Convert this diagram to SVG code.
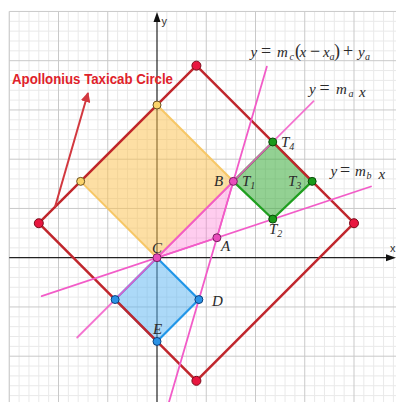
<svg xmlns="http://www.w3.org/2000/svg" width="396" height="402" viewBox="0 0 396 402">
<style>
.minor{stroke:#e9e9e9;stroke-width:1;fill:none}
.major{stroke:#c9c9c9;stroke-width:1;fill:none}
.axis{stroke:#222;stroke-width:1.2}
.pink{stroke:#f25cc8;stroke-width:1.8;fill:none;stroke-linecap:round}
.math{font-family:"Liberation Serif","Times New Roman",serif;font-style:italic;font-size:15px;fill:#2a2a2a}
.op{font-style:normal;font-size:18px}
.sub{font-size:10px}
.lbl{font-family:"Liberation Serif","Times New Roman",serif;font-style:italic;font-size:15px;fill:#2a2a2a}
.pr{fill:#e8163f;stroke:#7a0a1a;stroke-width:1}
.py{fill:#fbd46a;stroke:#6a5020;stroke-width:1}
.pg{fill:#1a9a1a;stroke:#0a4a0a;stroke-width:1}
.pp{fill:#e84cbb;stroke:#7a2060;stroke-width:1}
.pb{fill:#2a92e6;stroke:#0b3f7a;stroke-width:1}
</style>
<defs>
<marker id="ah" viewBox="0 0 10 10" refX="9" refY="5" markerWidth="5" markerHeight="5" orient="auto">
<path d="M0,0 L10,5 L0,10 z" fill="#d2383f"/>
</marker>
</defs>
<rect width="396" height="402" fill="#fff"/>
<g id="grid">
<path class="minor" d="M9.25 11.45V402M19.1 11.45V402M28.95 11.45V402M38.8 11.45V402M48.65 11.45V402M68.35 11.45V402M78.2 11.45V402M88.05 11.45V402M97.9 11.45V402M117.6 11.45V402M127.45 11.45V402M137.3 11.45V402M147.15 11.45V402M166.85 11.45V402M176.7 11.45V402M186.55 11.45V402M196.4 11.45V402M216.1 11.45V402M225.95 11.45V402M235.8 11.45V402M245.65 11.45V402M265.35 11.45V402M275.2 11.45V402M285.05 11.45V402M294.9 11.45V402M314.6 11.45V402M324.45 11.45V402M334.3 11.45V402M344.15 11.45V402M363.85 11.45V402M373.7 11.45V402M383.55 11.45V402M393.4 11.45V402"/>
<path class="minor" d="M9.25 21.3H396M9.25 31.15H396M9.25 41H396M9.25 50.85H396M9.25 70.55H396M9.25 80.4H396M9.25 90.25H396M9.25 100.1H396M9.25 119.8H396M9.25 129.65H396M9.25 139.5H396M9.25 149.35H396M9.25 169.05H396M9.25 178.9H396M9.25 188.75H396M9.25 198.6H396M9.25 218.3H396M9.25 228.15H396M9.25 238H396M9.25 247.85H396M9.25 267.55H396M9.25 277.4H396M9.25 287.25H396M9.25 297.1H396M9.25 316.8H396M9.25 326.65H396M9.25 336.5H396M9.25 346.35H396M9.25 366.05H396M9.25 375.9H396M9.25 385.75H396M9.25 395.6H396"/>
<path class="major" d="M9.25 11.45V402M58.5 11.45V402M107.75 11.45V402M206.25 11.45V402M255.5 11.45V402M304.75 11.45V402M354 11.45V402M9.25 11.45H396M9.25 60.7H396M9.25 109.95H396M9.25 159.2H396M9.25 208.45H396M9.25 306.95H396M9.25 356.2H396"/>
</g>
<g id="axes">
<line class="axis" x1="157" y1="402" x2="157" y2="20"/>
<polygon points="157,12 153.5,22 160.5,22" fill="#111"/>
<text x="161.5" y="25" font-family="Liberation Sans, Arial, sans-serif" font-size="11" fill="#333">y</text>
<line class="axis" x1="9.25" y1="257.7" x2="388" y2="257.7"/>
<polygon points="396,257.7 386,254.2 386,261.2" fill="#111"/>
<text x="390" y="252" font-family="Liberation Sans, Arial, sans-serif" font-size="11" fill="#333">x</text>
</g>
<g id="yellow-square">
<polygon points="157,257.7 80.66,181.36 157,105.03 233.34,181.36" fill="#fbbf4a" fill-opacity="0.5" stroke="#f7c766" stroke-width="2"/>
</g>
<g id="green-square">
<polygon points="233.34,181.36 272.74,141.96 312.14,181.36 272.74,219.09" fill="#3aab3a" fill-opacity="0.55" stroke="#1f9f1f" stroke-width="2.2"/>
</g>
<g id="blue-square">
<polygon points="157,257.7 115.14,299.56 157,341.43 198.86,299.56" fill="#5ab4f2" fill-opacity="0.5" stroke="#2196e8" stroke-width="2.2"/>
</g>
<g id="pink-triangle">
<polygon points="157,257.7 233.34,181.36 216.9,237.73" fill="#ff6fd0" fill-opacity="0.35" stroke="#f25cc8" stroke-width="1.5"/>
</g>
<g id="taxicab-circle">
<polygon points="196.4,65.63 354,223.23 196.4,380.83 38.8,223.23" fill="none" stroke="#c0262c" stroke-width="2.5" stroke-linejoin="round"/>
</g>
<g id="connectors">
<line class="pink" x1="77.2" y1="337.5" x2="313.6" y2="101.1" stroke-opacity="0.85"/>
<line class="pink" x1="41.7" y1="296.2" x2="371" y2="186.5"/>
<line class="pink" x1="266.8" y1="66.7" x2="169" y2="402"/>
<line x1="55" y1="207" x2="88" y2="93" stroke="#d2383f" stroke-width="2" marker-end="url(#ah)"/>
</g>
<g id="points">
<circle id="pt-top" class="pr" cx="196.4" cy="65.63" r="4.5"/>
<circle id="pt-right" class="pr" cx="354" cy="223.23" r="4.5"/>
<circle id="pt-bottom" class="pr" cx="196.4" cy="380.83" r="4.5"/>
<circle id="pt-left" class="pr" cx="38.8" cy="223.23" r="4.5"/>
<circle id="pt-ytop" class="py" cx="157" cy="105.03" r="4"/>
<circle id="pt-yleft" class="py" cx="80.66" cy="181.36" r="4"/>
<circle id="pt-T4" class="pg" cx="272.74" cy="141.96" r="4"/>
<circle id="pt-T3" class="pg" cx="312.14" cy="181.36" r="4"/>
<circle id="pt-T2" class="pg" cx="272.74" cy="219.09" r="4"/>
<circle id="pt-bleft" class="pb" cx="115.14" cy="299.56" r="4"/>
<circle id="pt-D" class="pb" cx="198.86" cy="299.56" r="4"/>
<circle id="pt-E" class="pb" cx="157" cy="341.43" r="4"/>
<circle id="pt-A" class="pp" cx="216.9" cy="237.73" r="4"/>
<circle id="pt-B" class="pp" cx="233.34" cy="181.36" r="4"/>
<circle id="pt-C" class="pp" cx="157" cy="257.7" r="4"/>
</g>
<g id="labels">
<text x="12" y="84" font-family="Liberation Sans, Arial, sans-serif" font-weight="bold" font-size="14" fill="#e0222a" textLength="161" lengthAdjust="spacingAndGlyphs">Apollonius Taxicab Circle</text>
<text class="lbl" x="214" y="186">B</text>
<text class="lbl" x="242" y="186">T<tspan class="sub" dy="3">1</tspan></text>
<text class="lbl" x="281" y="147">T<tspan class="sub" dy="3">4</tspan></text>
<text class="lbl" x="288" y="186">T<tspan class="sub" dy="3">3</tspan></text>
<text class="lbl" x="269" y="234">T<tspan class="sub" dy="3">2</tspan></text>
<text class="lbl" x="221" y="251">A</text>
<text class="lbl" x="152" y="253">C</text>
<text class="lbl" x="212" y="306">D</text>
<text class="lbl" x="153" y="334">E</text>
<text class="math" y="57"><tspan x="250.5">y</tspan><tspan class="op" x="261">=</tspan><tspan x="277">m</tspan><tspan class="sub" x="289.5" y="60">c</tspan><tspan class="op" x="295" y="57">(</tspan><tspan x="299.5">x</tspan><tspan class="op" x="310">−</tspan><tspan x="323">x</tspan><tspan class="sub" x="329.5" y="60">a</tspan><tspan class="op" x="334" y="57">)</tspan><tspan class="op" x="343">+</tspan><tspan x="358">y</tspan><tspan class="sub" x="365" y="60">a</tspan></text>
<text class="math" y="94"><tspan x="309">y</tspan><tspan class="op" x="319.5">=</tspan><tspan x="336">m</tspan><tspan class="sub" x="348.5" y="97">a</tspan><tspan x="359">x</tspan></text>
<text class="math" y="176"><tspan x="330.5">y</tspan><tspan class="op" x="340">=</tspan><tspan x="355">m</tspan><tspan class="sub" x="366.5" y="179">b</tspan><tspan x="378.5">x</tspan></text>
</g>
</svg>
